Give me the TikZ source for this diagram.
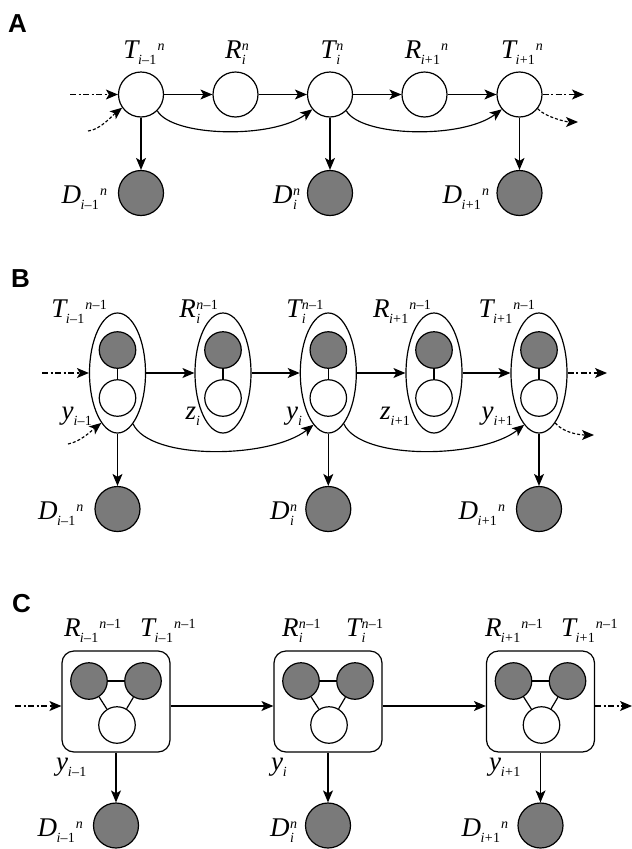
\documentclass[tikz,border=0pt]{standalone}
\usepackage{fontspec}
\setmainfont{Liberation Serif}
\newfontfamily\panelfont{Liberation Sans}
\usetikzlibrary{arrows.meta,shapes.geometric}
\definecolor{obsgray}{RGB}{122,122,122}
\newcommand\msz{\fontsize{27}{27}\selectfont}
\newcommand\ssz{\fontsize{14}{14}\selectfont}
\newcommand\LA[3]{{\msz\itshape #1}\kern-0.5pt\raisebox{-6.5pt}{\ssz #2}\kern1pt\raisebox{8pt}{\ssz #3}}
\newcommand\LS[3]{{\msz\itshape #1}\kern0.5pt\rlap{\raisebox{-6.5pt}{\ssz #2}}\raisebox{8pt}{\ssz #3}}
\newcommand\LY[2]{{\msz\itshape #1}\kern0pt\raisebox{-6.5pt}{\ssz #2}}
\newcommand\subim{\textit{i}\kern0.3pt–\kern0.3pt1}
\newcommand\subip{\textit{i}\kern0.3pt+\kern0.3pt1}
\newcommand\subi{\textit{i}}
\newcommand\supn{\textit{n}}
\newcommand\supnm{\textit{n}\kern0.3pt–\kern0.3pt1}
\tikzset{
 hid/.style={circle, draw, fill=white, line width=1.2pt, minimum size=45pt, inner sep=0pt},
 obs/.style={hid, fill=obsgray},
 sm/.style={circle, draw, line width=1.2pt, minimum size=36.5pt, inner sep=0pt},
 smobs/.style={sm, fill=obsgray},
 smhid/.style={sm, fill=white},
 grp/.style={ellipse, draw, line width=1.2pt, minimum width=56pt, minimum height=120pt, inner sep=0pt},
 cbox/.style={rectangle, rounded corners=12pt, draw, line width=1.2pt, minimum width=108pt, minimum height=101pt, inner sep=0pt},
 arr/.style={-{Stealth[length=12pt,width=10pt,inset=3pt]}, line width=1.15pt},
 dd/.style={arr, dash pattern=on 6pt off 2.5pt on 2pt off 2.5pt},
 dsh/.style={arr, dash pattern=on 3pt off 2pt},
 lbl/.style={inner sep=0pt, outer sep=0pt},
 panel/.style={inner sep=0pt, font=\panelfont\bfseries\fontsize{26}{26}\selectfont},
 link/.style={line width=1.2pt},
}
\begin{document}
\begin{tikzpicture}[x=1pt,y=-1pt]
\useasboundingbox (0,0) rectangle (632,849);
% ---------------- Panel A
\node[panel, anchor=base west] (pA) at (8,32) {A};
\node[hid] (aT1) at (141,94.5) {};
\node[hid] (aR1) at (235.5,94.5) {};
\node[hid] (aT2) at (330,94.5) {};
\node[hid] (aR2) at (424.5,94.5) {};
\node[hid] (aT3) at (519.5,94.5) {};
\node[obs] (aD1) at (141,193) {};
\node[obs] (aD2) at (330,193) {};
\node[obs] (aD3) at (519.5,193) {};
\node[lbl, anchor=base] (laT1) at (144,58) {\LA{T}{\subim}{\supn}};
\node[lbl, anchor=base] (laR1) at (237,58) {\LS{R}{\subi}{\supn}};
\node[lbl, anchor=base] (laT2) at (332,58) {\LS{T}{\subi}{\supn}};
\node[lbl, anchor=base] (laR2) at (426.5,58) {\LA{R}{\subip}{\supn}};
\node[lbl, anchor=base] (laT3) at (522,58) {\LA{T}{\subip}{\supn}};
\node[lbl, anchor=base east] (laD1) at (107,203) {\LA{D}{\subim}{\supn}};
\node[lbl, anchor=base east] (laD2) at (300,203) {\LS{D}{\subi}{\supn}};
\node[lbl, anchor=base east] (laD3) at (489,203) {\LA{D}{\subip}{\supn}};
\draw[arr] (aT1) -- (aR1);
\draw[arr] (aR1) -- (aT2);
\draw[arr] (aT2) -- (aR2);
\draw[arr] (aR2) -- (aT3);
\draw[arr] (aT1) -- (aD1);
\draw[arr] (aT2) -- (aD2);
\draw[arr] (aT3) -- (aD3);
\draw[arr] (aT1.-45) .. controls +(15,26) and +(-40,30) .. (aT2.-140);
\draw[arr] (aT2.-45) .. controls +(15,26) and +(-40,30) .. (aT3.-140);
\coordinate (aIn) at (70,94.5);
\draw[dd] (aIn) -- (aT1);
\coordinate (aInC) at (88,131);
\draw[dsh] (aInC) .. controls +(12,-1) and +(-10,8) .. (aT1.-145);
\coordinate (aOut) at (584,94.5);
\draw[dd] (aT3) -- (aOut);
\coordinate (aOutC) at (578,122);
\draw[dsh] (aT3.-38) .. controls +(7,8) and +(-12,0) .. (aOutC);
% ---------------- Panel B
\node[panel, anchor=base west] (pB) at (11,287) {B};
\foreach \nm/\cx in {bT1/117.5, bR1/223, bT2/328.3, bR2/434, bT3/539}{
  \node[grp] (\nm) at (\cx,373) {};
  \node[smobs] (\nm o) at (\cx,350) {};
  \node[smhid] (\nm h) at (\cx,398) {};
  \draw[link] (\nm o) -- (\nm h);
}
\node[obs] (bD1) at (117.5,509) {};
\node[obs] (bD2) at (328.3,509) {};
\node[obs] (bD3) at (539,509) {};
\node[lbl, anchor=base east] (lbT1) at (107,317) {\LA{T}{\subim}{\supnm}};
\node[lbl, anchor=base east] (lbR1) at (218,317) {\LS{R}{\subi}{\supnm}};
\node[lbl, anchor=base east] (lbT2) at (323.5,317) {\LS{T}{\subi}{\supnm}};
\node[lbl, anchor=base east] (lbR2) at (431,317) {\LA{R}{\subip}{\supnm}};
\node[lbl, anchor=base east] (lbT3) at (535,317) {\LA{T}{\subip}{\supnm}};
\node[lbl, anchor=base east] (lby1) at (92,419) {\LY{y}{\subim}};
\node[lbl, anchor=base east] (lbz1) at (200,419) {\LY{z}{\subi}};
\node[lbl, anchor=base east] (lby2) at (302,419) {\LY{y}{\subi}};
\node[lbl, anchor=base east] (lbz2) at (410,419) {\LY{z}{\subip}};
\node[lbl, anchor=base east] (lby3) at (513,419) {\LY{y}{\subip}};
\node[lbl, anchor=base east] (lbD1) at (83.5,519) {\LA{D}{\subim}{\supn}};
\node[lbl, anchor=base east] (lbD2) at (297,519) {\LS{D}{\subi}{\supn}};
\node[lbl, anchor=base east] (lbD3) at (505,519) {\LA{D}{\subip}{\supn}};
\draw[arr] (bT1) -- (bR1);
\draw[arr] (bR1) -- (bT2);
\draw[arr] (bT2) -- (bR2);
\draw[arr] (bR2) -- (bT3);
\draw[arr] (bT1) -- (bD1);
\draw[arr] (bT2) -- (bD2);
\draw[arr] (bT3) -- (bD3);
\draw[arr] (bT1.-73) .. controls +(17,37) and +(-43,34) .. (bT2.-106);
\draw[arr] (bT2.-73) .. controls +(17,37) and +(-43,34) .. (bT3.-106);
\coordinate (bIn) at (42,373);
\draw[dd] (bIn) -- (bT1);
\coordinate (bInC) at (68,444);
\draw[dsh] (bInC) .. controls +(12,-2) and +(-10,8) .. (bT1.-108);
\coordinate (bOut) at (607,373);
\draw[dd] (bT3) -- (bOut);
\coordinate (bOutC) at (594,435);
\draw[dsh] (bT3.-72) .. controls +(8,10) and +(-14,0) .. (bOutC);
% ---------------- Panel C
\node[panel, anchor=base west] (pC) at (12,612) {C};
\foreach \k/\cx in {1/116, 2/328, 3/540.5}{
  \node[cbox] (cB\k) at (\cx,701.5) {};
  \node[smobs] (cR\k) at (\cx-27,681) {};
  \node[smobs] (cT\k) at (\cx+27,681) {};
  \node[smhid] (cY\k) at (\cx+1,725) {};
  \draw[link] (cR\k) -- (cT\k);
  \draw[link] (cR\k) -- (cY\k);
  \draw[link] (cT\k) -- (cY\k);
  \node[obs] (cD\k) at (\cx,825.5) {};
  \draw[arr] (cB\k) -- (cD\k);
}
\node[lbl, anchor=base west] (lcR1) at (64,636) {\LA{R}{\subim}{\supnm}};
\node[lbl, anchor=base west] (lcT1) at (140,636) {\LA{T}{\subim}{\supnm}};
\node[lbl, anchor=base west] (lcR2) at (282,636) {\LS{R}{\subi}{\supnm}};
\node[lbl, anchor=base west] (lcT2) at (346,636) {\LS{T}{\subi}{\supnm}};
\node[lbl, anchor=base west] (lcR3) at (485,636) {\LA{R}{\subip}{\supnm}};
\node[lbl, anchor=base west] (lcT3) at (561,636) {\LA{T}{\subip}{\supnm}};
\node[lbl, anchor=base west] (lcy1) at (56,770) {\LY{y}{\subim}};
\node[lbl, anchor=base west] (lcy2) at (271,770) {\LY{y}{\subi}};
\node[lbl, anchor=base west] (lcy3) at (489,770) {\LY{y}{\subip}};
\node[lbl, anchor=base east] (lcD1) at (83,836) {\LA{D}{\subim}{\supn}};
\node[lbl, anchor=base east] (lcD2) at (297,836) {\LS{D}{\subi}{\supn}};
\node[lbl, anchor=base east] (lcD3) at (508,836) {\LA{D}{\subip}{\supn}};
\draw[arr] ([yshift=-4.5pt]cB1.east) -- ([yshift=-4.5pt]cB2.west);
\draw[arr] ([yshift=-4.5pt]cB2.east) -- ([yshift=-4.5pt]cB3.west);
\coordinate (cIn) at (15,706);
\draw[dd] (cIn) -- ([yshift=-4.5pt]cB1.west);
\coordinate (cOut) at (632,706);
\draw[dd] ([yshift=-4.5pt]cB3.east) -- (cOut);
\end{tikzpicture}
\end{document}
